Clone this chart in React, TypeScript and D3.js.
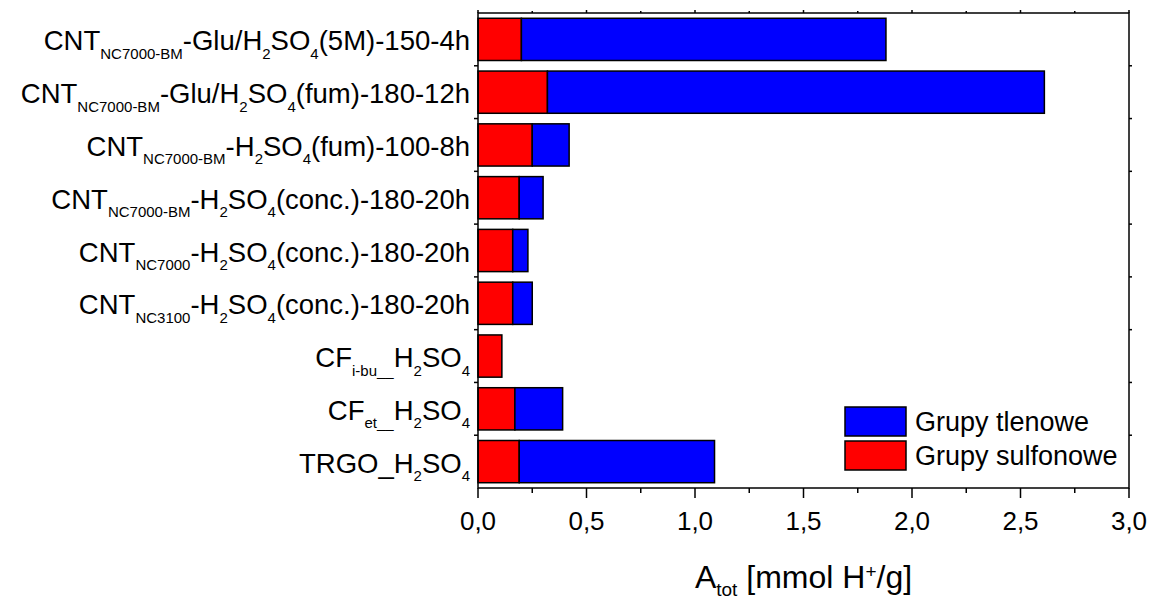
import * as d3 from "d3";
import { useEffect, useRef } from "react";

// category labels, split into [text, kind] pieces (kind: sub / sup / normal)
const categories: [string, string?][][] = [
  [["CNT"], ["NC7000-BM", "sub"], ["-Glu/H"], ["2", "sub"], ["SO"], ["4", "sub"], ["(5M)-150-4h"]],
  [["CNT"], ["NC7000-BM", "sub"], ["-Glu/H"], ["2", "sub"], ["SO"], ["4", "sub"], ["(fum)-180-12h"]],
  [["CNT"], ["NC7000-BM", "sub"], ["-H"], ["2", "sub"], ["SO"], ["4", "sub"], ["(fum)-100-8h"]],
  [["CNT"], ["NC7000-BM", "sub"], ["-H"], ["2", "sub"], ["SO"], ["4", "sub"], ["(conc.)-180-20h"]],
  [["CNT"], ["NC7000", "sub"], ["-H"], ["2", "sub"], ["SO"], ["4", "sub"], ["(conc.)-180-20h"]],
  [["CNT"], ["NC3100", "sub"], ["-H"], ["2", "sub"], ["SO"], ["4", "sub"], ["(conc.)-180-20h"]],
  [["CF"], ["i-bu__", "sub"], ["H"], ["2", "sub"], ["SO"], ["4", "sub"]],
  [["CF"], ["et__", "sub"], ["H"], ["2", "sub"], ["SO"], ["4", "sub"]],
  [["TRGO_H"], ["2", "sub"], ["SO"], ["4", "sub"]],
];

// Grupy sulfonowe (red, first segment)
const sulfonic = [0.2, 0.32, 0.25, 0.19, 0.16, 0.16, 0.11, 0.17, 0.19];
// Grupy tlenowe (blue, stacked on top)
const oxygen = [1.68, 2.29, 0.17, 0.11, 0.07, 0.09, 0.0, 0.22, 0.9];

const seriesNames = ["Grupy sulfonowe", "Grupy tlenowe"];
const seriesColors = ["#ff0000", "#0000ff"];

const xTicks = [0, 0.5, 1, 1.5, 2, 2.5, 3];
const xMinorTicks = [0.25, 0.75, 1.25, 1.75, 2.25, 2.75];

const xTitle: [string, string?][] = [["A"], ["tot", "sub"], [" [mmol H"], ["+", "sup"], ["/g]"]];

const W = 1149;
const H = 596;

function richText(sel, parts, size, subSize, subShift) {
  let offset = 0;
  parts.forEach(([t, kind]) => {
    let target = 0;
    if (kind === "sub") target = subShift;
    if (kind === "sup") target = -subShift * 1.3;
    sel
      .append("tspan")
      .attr("dy", target - offset)
      .attr("font-size", kind ? subSize : size)
      .text(t);
    offset = target;
  });
}

const App = () => {
  const svgRef = useRef(null);

  useEffect(() => {
    const margin = { top: 13, left: 478, right: 20, bottom: 108 };
    const svg = d3.select(svgRef.current).attr("width", W).attr("height", H);
    svg.selectAll("*").remove();

    const font = "Liberation Sans, Arial, sans-serif";

    const x = d3
      .scaleLinear()
      .domain([0, 3])
      .range([margin.left, W - margin.right]);
    const y = d3
      .scaleBand()
      .domain(categories.map((_, i) => String(i)))
      .range([margin.top, H - margin.bottom])
      .paddingInner(0.2)
      .paddingOuter(0.1);

    // stack the data
    const rows = categories.map((_, i) => ({ i, s: sulfonic[i], o: oxygen[i] }));
    const stacked = d3.stack().keys(["s", "o"])(rows);

    const bars = svg.append("g");
    stacked.forEach((layer, li) => {
      bars
        .selectAll(".bar" + li)
        .data(layer.filter((d) => d[1] - d[0] > 0))
        .join("rect")
        .attr("x", (d) => x(d[0]))
        .attr("y", (d) => y(String(d.data.i)))
        .attr("width", (d) => x(d[1]) - x(d[0]))
        .attr("height", y.bandwidth())
        .attr("fill", seriesColors[li])
        .attr("stroke", "#000")
        .attr("stroke-width", 1.5);
    });

    const x0 = x.range()[0];
    const x1 = x.range()[1];
    const y0 = margin.top;
    const y1 = H - margin.bottom;

    // frame
    svg
      .append("rect")
      .attr("x", x0)
      .attr("y", y0)
      .attr("width", x1 - x0)
      .attr("height", y1 - y0)
      .attr("fill", "none")
      .attr("stroke", "#000")
      .attr("stroke-width", 1.5);

    // x ticks bottom + top
    const ticks = svg.append("g").attr("stroke", "#000").attr("stroke-width", 1.5);
    xTicks.forEach((t) => {
      ticks.append("line").attr("x1", x(t)).attr("x2", x(t)).attr("y1", y1).attr("y2", y1 + 10);
      ticks.append("line").attr("x1", x(t)).attr("x2", x(t)).attr("y1", y0).attr("y2", y0 - 3);
    });
    xMinorTicks.forEach((t) => {
      ticks.append("line").attr("x1", x(t)).attr("x2", x(t)).attr("y1", y1).attr("y2", y1 + 5);
      ticks.append("line").attr("x1", x(t)).attr("x2", x(t)).attr("y1", y0).attr("y2", y0 - 2);
    });
    // category boundary ticks
    const step = y.step();
    d3.range(1, categories.length).forEach((k) => {
      const yy = y0 + step * k;
      ticks.append("line").attr("x1", x0).attr("x2", x0 - 4).attr("y1", yy).attr("y2", yy);
      ticks.append("line").attr("x1", x1).attr("x2", x1 + 3).attr("y1", yy).attr("y2", yy);
    });

    // tick labels
    svg
      .selectAll(".xlab")
      .data(xTicks)
      .join("text")
      .attr("x", (d) => x(d))
      .attr("y", 530)
      .attr("text-anchor", "middle")
      .attr("font-family", font)
      .attr("font-size", 26)
      .attr("fill", "#000")
      .text((d) => d3.format(".1f")(d).replace(".", ","));

    // category labels
    categories.forEach((parts, i) => {
      const t = svg
        .append("text")
        .attr("x", x0 - 8)
        .attr("y", y(String(i)) + y.bandwidth() / 2 + 11)
        .attr("text-anchor", "end")
        .attr("font-family", font)
        .attr("fill", "#000");
      richText(t, parts, 27.5, 15, 8.5);
    });

    // x axis title
    const title = svg
      .append("text")
      .attr("x", (x0 + x1) / 2)
      .attr("y", 588)
      .attr("text-anchor", "middle")
      .attr("font-family", font)
      .attr("fill", "#000");
    richText(title, xTitle, 32, 19, 8);

    // legend
    const legend = svg.append("g").attr("transform", "translate(845,407)");
    [1, 0].forEach((si, k) => {
      legend
        .append("rect")
        .attr("x", 0)
        .attr("y", k * 34)
        .attr("width", 61)
        .attr("height", 29)
        .attr("fill", seriesColors[si])
        .attr("stroke", "#000")
        .attr("stroke-width", 1.5);
      legend
        .append("text")
        .attr("x", 70)
        .attr("y", k * 34 + 24)
        .attr("font-family", font)
        .attr("font-size", 27)
        .attr("fill", "#000")
        .text(seriesNames[si]);
    });
  }, []);

  return <svg ref={svgRef} style={{ position: "absolute", left: 0, top: 0 }}></svg>;
};

export default App;
